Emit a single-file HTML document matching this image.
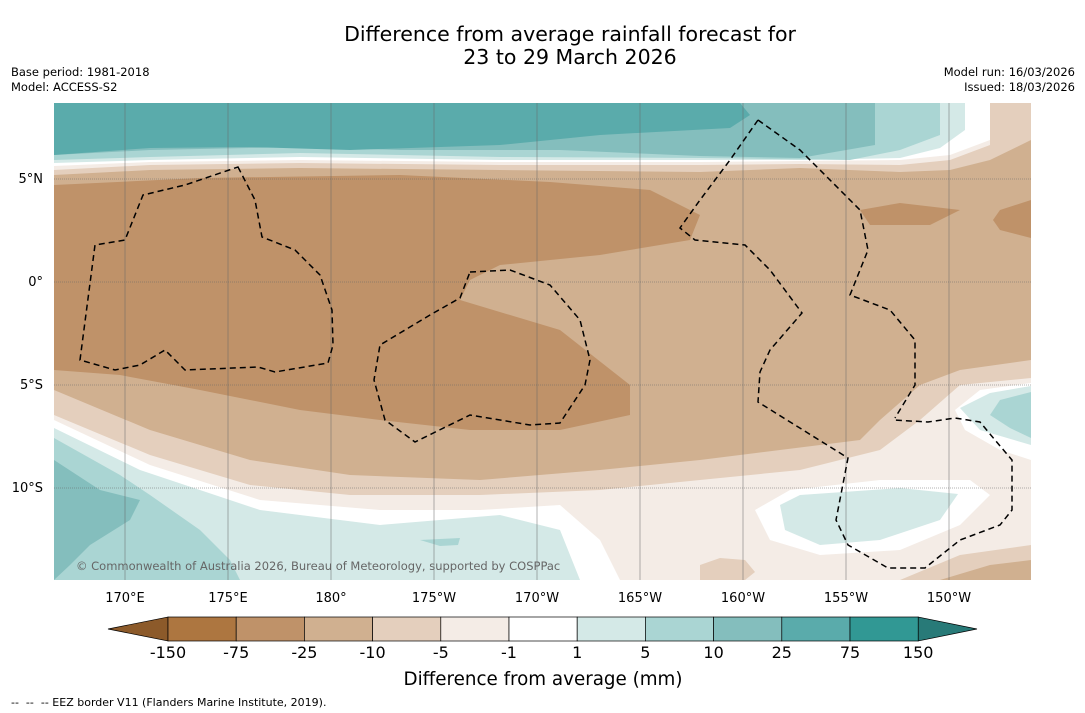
<!DOCTYPE html>
<html><head><meta charset="utf-8">
<style>
body{margin:0;background:#fff;width:1085px;height:713px;overflow:hidden;font-family:"DejaVu Sans","Liberation Sans",sans-serif;}
svg{position:absolute;left:0;top:0}
</style></head>
<body>
<svg width="1085" height="713">
<text x="570" y="41" font-size="20.5" text-anchor="middle">Difference from average rainfall forecast for</text>
<text x="570" y="64" font-size="20.5" text-anchor="middle">23 to 29 March 2026</text>
<text x="11" y="76" font-size="11.5">Base period: 1981-2018</text>
<text x="11" y="91" font-size="11.5">Model: ACCESS-S2</text>
<text x="1075" y="76" font-size="11.5" text-anchor="end">Model run: 16/03/2026</text>
<text x="1075" y="91" font-size="11.5" text-anchor="end">Issued: 18/03/2026</text>
<defs><clipPath id="mc"><rect x="54" y="103" width="977" height="477"/></clipPath></defs>
<g clip-path="url(#mc)">
<rect x="54" y="103" width="977" height="477" fill="#d0b090"/>
<path d="M54,103H1031V140L990,160L950,170L900,172L800,168L700,172L500,170L300,168L150,170L54,175Z" fill="#e4cfbd"/>
<path d="M54,103H990V145L950,160L900,165L800,164L700,165L500,165L300,163L150,165L54,170Z" fill="#f4ece6"/>
<path d="M54,103H990V140L950,155L900,160L800,161L700,162L500,162L300,160L150,162L54,166Z" fill="#fff"/>
<path d="M54,103H965V130L940,148L900,158L800,160L700,160L500,160L300,157L150,160L54,163Z" fill="#d4e9e7"/>
<path d="M54,103H940V135L900,150L850,160L700,158L500,157L300,153L150,157L54,160Z" fill="#aad5d3"/>
<path d="M54,103H875V145L800,158L700,156L560,150L400,150L300,147L150,150L54,155Z" fill="#84bebd"/>
<path d="M54,103H740L750,115L730,128L600,135L500,145L350,150L250,147L150,148L54,155Z" fill="#5aabab"/>
<path d="M54,185L200,178L400,175L550,182L650,190L700,215L690,240L600,255L500,265L470,280L460,300L560,330L630,385L630,415L560,430L470,430L380,420L300,410L200,390L120,375L54,370Z" fill="#bf9269"/>
<path d="M860,210L900,203L960,210L930,225L870,225Z" fill="#bf9269"/>
<path d="M1000,210L1031,200V238L1000,230L993,220Z" fill="#bf9269"/>
<path d="M1031,360L960,370L920,385L880,420L860,440L700,460L600,470L480,480L350,475L250,460L150,430L54,390V580H1031Z" fill="#e4cfbd"/>
<path d="M1031,378L960,385L920,420L880,450L800,470L700,480L600,490L480,495L350,495L250,485L150,455L54,415V580H1031Z" fill="#f4ece6"/>
<path d="M54,420L150,465L260,500L380,510L480,510L560,505L600,540L620,580H54Z" fill="#fff"/>
<path d="M54,428L140,470L260,510L380,525L500,515L560,530L580,580H54Z" fill="#d4e9e7"/>
<path d="M54,438L120,475L150,495L200,530L230,560L240,580H54Z" fill="#aad5d3"/>
<path d="M54,460L100,490L140,500L130,520L90,545L70,565L54,580Z" fill="#84bebd"/>
<path d="M1031,383L980,390L955,410L965,430L1000,450L1031,460Z" fill="#fff"/>
<path d="M1031,386L990,393L960,408L980,430L1031,445Z" fill="#d4e9e7"/>
<path d="M1031,392L1000,400L990,415L1010,428L1031,438Z" fill="#aad5d3"/>
<path d="M755,510L790,490L880,480L970,480L990,495L960,525L900,550L820,555L770,540Z" fill="#fff"/>
<path d="M780,505L800,495L900,488L958,494L940,520L880,540L820,545L785,530Z" fill="#d4e9e7"/>
<path d="M700,565L720,558L745,560L755,572L745,580H700Z" fill="#e4cfbd"/>
<path d="M900,580L960,555L1031,545V580Z" fill="#e4cfbd"/>
<path d="M940,580L990,565L1031,560V580Z" fill="#d0b090"/>
<path d="M420,540L460,538L458,545L440,546Z" fill="#aad5d3"/>
</g>
<g stroke="#666" stroke-width="0.5">
<line x1="125" y1="103" x2="125" y2="580"/><line x1="228" y1="103" x2="228" y2="580"/><line x1="331" y1="103" x2="331" y2="580"/><line x1="434" y1="103" x2="434" y2="580"/><line x1="537" y1="103" x2="537" y2="580"/><line x1="640" y1="103" x2="640" y2="580"/><line x1="743" y1="103" x2="743" y2="580"/><line x1="846" y1="103" x2="846" y2="580"/><line x1="949" y1="103" x2="949" y2="580"/>
<g stroke-dasharray="1,1"><line x1="54" y1="179" x2="1031" y2="179"/><line x1="54" y1="282" x2="1031" y2="282"/><line x1="54" y1="385" x2="1031" y2="385"/><line x1="54" y1="488" x2="1031" y2="488"/></g>
</g>
<g fill="none" stroke="#000" stroke-width="1.5" stroke-dasharray="6,4">
<path d="M238,167L255,200L262,237L295,250L320,275L332,310L333,345L328,363L275,372L258,367L185,370L165,350L140,365L115,370L80,360L95,245L125,240L143,195L185,185Z"/>
<path d="M470,272L510,270L550,285L580,320L590,360L585,385L560,423L530,425L470,415L415,442L385,420L374,380L380,345L430,315L460,298Z"/>
<path d="M758,120L800,150L830,180L860,210L868,250L850,295L890,310L915,340L915,385L895,418"/>
<path d="M758,120L730,160L700,200L680,228L695,240L745,245L770,270L802,313L770,350L760,372L758,402L848,458L836,520L848,545L888,568L925,568L960,540L1000,525L1012,510L1012,460L995,440L980,422L955,418L928,422L893,420"/>
</g>
<text x="76" y="570" font-size="11.5" fill="#666">© Commonwealth of Australia 2026, Bureau of Meteorology, supported by COSPPac</text>
<g font-size="13">
<text x="43" y="183" text-anchor="end">5°N</text><text x="43" y="286" text-anchor="end">0°</text><text x="43" y="389" text-anchor="end">5°S</text><text x="43" y="492" text-anchor="end">10°S</text>
</g>
<g font-size="13" text-anchor="middle">
<text x="125" y="602">170°E</text><text x="228" y="602">175°E</text><text x="331" y="602">180°</text><text x="434" y="602">175°W</text><text x="537" y="602">170°W</text><text x="640" y="602">165°W</text><text x="743" y="602">160°W</text><text x="846" y="602">155°W</text><text x="949" y="602">150°W</text>
</g>
<g id="cbar"></g>
<text x="543" y="685" font-size="18.3" text-anchor="middle">Difference from average (mm)</text>
<text x="11" y="706" font-size="11" xml:space="preserve">--  --  -- EEZ border V11 (Flanders Marine Institute, 2019).</text>
</svg>
<script>
const binColors=["#ad7640","#bf9269","#d0b090","#e4cfbd","#f4ece6","#ffffff","#d4e9e7","#aad5d3","#84bebd","#5aabab","#319894"];
const tickLabels=["-150","-75","-25","-10","-5","-1","1","5","10","25","75","150"];
const ns="http://www.w3.org/2000/svg";
const g=document.getElementById("cbar");
const x0=168,w=68.2,y0=617,h=24;
function mk(t,a){const e=document.createElementNS(ns,t);for(const k in a)e.setAttribute(k,a[k]);g.appendChild(e);return e;}
let lt=mk("polygon",{points:`108,${y0+h/2} ${x0},${y0} ${x0},${y0+h}`,fill:"#8c5a2a",stroke:"#000","stroke-width":0.7});


const xe=x0+w*binColors.length;
let rt=mk("polygon",{points:`${xe},${y0} ${xe},${y0+h} 977,${y0+h/2}`,fill:"#287a78",stroke:"#000","stroke-width":0.7});


binColors.forEach((c,i)=>{
 const r=mk("rect",{x:x0+i*w,y:y0,width:w,height:h,fill:c,stroke:"#000","stroke-width":0.7});
 
 
});
tickLabels.forEach((t,i)=>{
 const e=mk("text",{x:x0+i*w,y:658,"font-size":16,"text-anchor":"middle"});
 e.textContent=t;
 
 
});
</script>
</body></html>
